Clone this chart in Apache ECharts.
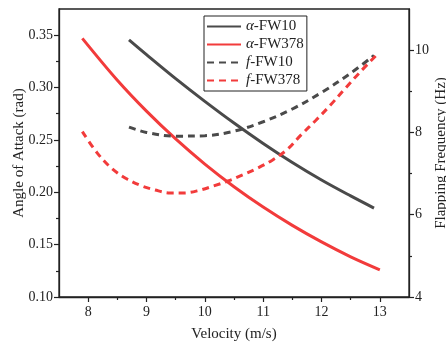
<!DOCTYPE html>
<html>
<head>
<meta charset="utf-8">
<script src="https://cdn.jsdelivr.net/npm/echarts@6/dist/echarts.min.js"></script>
<style>html,body{margin:0;padding:0;background:#fff;}#c{width:446px;height:343px;}</style>
</head>
<body>
<div id="c"></div>
<script>
// ---- data ----
const velAlphaFW10 = [8.7, 9.0, 9.5, 10.0, 10.5, 11.0, 11.5, 12.0, 12.5, 12.9];
const alphaFW10 = [0.3455, 0.3314, 0.3085, 0.2868, 0.2661, 0.2466, 0.2284, 0.2117, 0.1965, 0.1849];
const velFreqFW10 = [8.7, 9.0, 9.5, 10.0, 10.5, 11.0, 11.5, 12.0, 12.5, 12.9];
const freqFW10 = [8.13, 8.00, 7.91, 7.92, 8.03, 8.26, 8.57, 8.97, 9.44, 9.87];
const velAlphaFW378 = [7.9, 8.5, 9.0, 9.5, 10.0, 10.5, 11.0, 11.5, 12.0, 12.5, 13.0];
const alphaFW378 = [0.347, 0.307, 0.2775, 0.2509, 0.2269, 0.2053, 0.1859, 0.1684, 0.1526, 0.1384, 0.126];
const velFreqFW378 = [7.9, 8.15, 8.4, 8.65, 8.9, 9.15, 9.4, 9.65, 9.9, 10.15, 10.4, 10.65, 10.9, 11.15, 11.4, 11.65, 11.9, 12.15, 12.4, 12.65, 12.97];
const freqFW378 = [8.02, 7.51, 7.13, 6.88, 6.71, 6.60, 6.53, 6.53, 6.59, 6.70, 6.82, 6.97, 7.13, 7.32, 7.57, 7.94, 8.29, 8.66, 9.06, 9.45, 9.92];
const seriesNames = ['α-FW10', 'α-FW378', 'f-FW10', 'f-FW378'];
const xTicks = [8, 9, 10, 11, 12, 13];
const xMinor = [8.5, 9.5, 10.5, 11.5, 12.5];
const yLeftTicks = [0.10, 0.15, 0.20, 0.25, 0.30, 0.35];
const yLeftMinor = [0.125, 0.175, 0.225, 0.275, 0.325];
const yRightTicks = [4, 6, 8, 10];
const yRightMinor = [5, 7, 9];

const pairs = (xs, ys) => xs.map((x, i) => [x, ys[i]]);
const font = 'Liberation Serif, Times New Roman, serif';
const ink = '#222';
const gray = '#4a4a4a', red = '#f23b3b';

const chart = echarts.init(document.getElementById('c'), null, {renderer: 'canvas'});

const axisLine = {show: true, lineStyle: {color: ink, width: 1.3}};
const labelStyle = {color: ink, fontFamily: font, fontSize: 14};

function minorAxis(base, values) {
  return Object.assign({}, base, {
    name: '', axisLabel: {show: false},
    axisLine: {show: false}, splitLine: {show: false},
    axisTick: {show: true, inside: false, length: 3, customValues: values, lineStyle: {color: ink, width: 1.2}}
  });
}

const xBase = {type: 'value', min: 7.5, max: 13.5, position: 'bottom', gridIndex: 0};
const yLBase = {type: 'value', min: 0.10, max: 0.375, position: 'left'};
const yRBase = {type: 'value', min: 4, max: 11, position: 'right'};

function lineSeries(i, yIdx, xs, ys, color, dashed) {
  return {name: seriesNames[i], type: 'line', xAxisIndex: 0, yAxisIndex: yIdx, data: pairs(xs, ys),
    smooth: 0.35, showSymbol: false, symbol: 'none',
    lineStyle: {color: color, width: 3, type: dashed ? [7, 5] : 'solid'}, itemStyle: {color: color}};
}

const option = {
  backgroundColor: '#fff',
  animation: false,
  grid: {left: 59, right: 37, top: 9, bottom: 46, show: true, borderColor: ink, borderWidth: 1.3,
    backgroundColor: 'transparent', containLabel: false, outerBoundsMode: 'none'},
  legend: {
    orient: 'vertical', left: 204, top: 16,
    padding: [3, 3, 3, 2], itemGap: 3, itemWidth: 34, itemHeight: 14,
    borderColor: ink, borderWidth: 1, backgroundColor: '#fff',
    data: seriesNames,
    itemStyle: {color: 'transparent', borderColor: 'transparent', borderWidth: 0, opacity: 0},
    formatter: n => n.replace(/^(α|f)/, '{i|$1}'),
    textStyle: {fontFamily: font, fontSize: 15, color: ink, lineHeight: 14,
      rich: {i: {fontFamily: font, fontSize: 15, fontStyle: 'italic', color: ink, lineHeight: 14}}}
  },
  xAxis: [
    Object.assign({}, xBase, {
      name: 'Velocity (m/s)', nameLocation: 'middle', nameGap: 30, nameMoveOverlap: false,
      nameTextStyle: {fontFamily: font, fontSize: 15, color: ink},
      axisLine: axisLine, splitLine: {show: false},
      axisTick: {show: true, length: 5, customValues: xTicks, lineStyle: {color: ink, width: 1.2}},
      axisLabel: Object.assign({margin: 8, customValues: xTicks}, labelStyle)
    }),
    minorAxis(xBase, xMinor)
  ],
  yAxis: [
    Object.assign({}, yLBase, {
      name: 'Angle of Attack (rad)', nameLocation: 'middle', nameGap: 32, nameRotate: 90, nameMoveOverlap: false,
      nameTextStyle: {fontFamily: font, fontSize: 15, color: ink},
      axisLine: axisLine, splitLine: {show: false},
      axisTick: {show: true, length: 5, customValues: yLeftTicks, lineStyle: {color: ink, width: 1.2}},
      axisLabel: Object.assign({margin: 6, customValues: yLeftTicks, formatter: v => v.toFixed(2)}, labelStyle)
    }),
    Object.assign({}, yRBase, {
      name: 'Flapping Frequency (Hz)', nameLocation: 'middle', nameGap: 25, nameRotate: 90, nameMoveOverlap: false,
      nameTextStyle: {fontFamily: font, fontSize: 15, color: ink},
      axisLine: axisLine, splitLine: {show: false},
      axisTick: {show: true, length: 5, customValues: yRightTicks, lineStyle: {color: ink, width: 1.2}},
      axisLabel: Object.assign({margin: 6, customValues: yRightTicks}, labelStyle)
    }),
    minorAxis(yLBase, yLeftMinor),
    minorAxis(yRBase, yRightMinor)
  ],
  series: [
    lineSeries(0, 0, velAlphaFW10, alphaFW10, gray, false),
    lineSeries(1, 0, velAlphaFW378, alphaFW378, red, false),
    lineSeries(2, 1, velFreqFW10, freqFW10, gray, true),
    lineSeries(3, 1, velFreqFW378, freqFW378, red, true)
  ]
};
chart.setOption(option);
</script>
</body>
</html>
